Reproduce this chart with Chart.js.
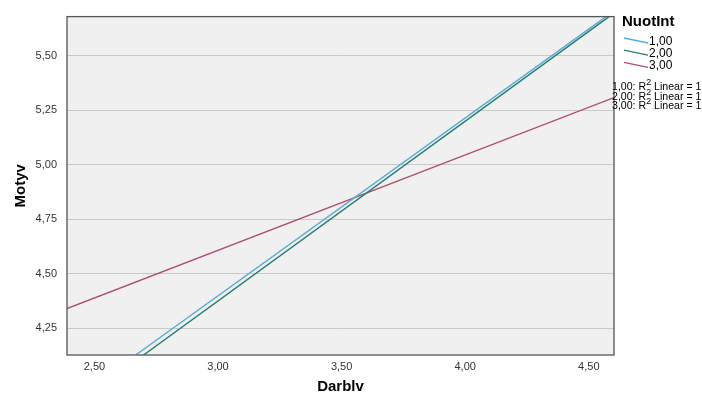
<!DOCTYPE html>
<html>
<head>
<meta charset="utf-8">
<script src="https://cdn.jsdelivr.net/npm/chart.js@4.4.1/dist/chart.umd.min.js"></script>
<style>
  body { margin: 0; background: #fff; font-family: "Liberation Sans", Arial, sans-serif; }
  #wrap { position: relative; width: 702px; height: 398px; }
  #legend { position: absolute; left: 0; top: 0; width: 702px; height: 398px; pointer-events: none; }
  .lg { position: absolute; white-space: nowrap; color: #000; }
  .lgTitle { left: 622px; top: 12px; font-size: 15px; font-weight: bold; }
  .lgItem { left: 649px; font-size: 12px; }
  .lgR2 { left: 612px; font-size: 10.6px; }
</style>
</head>
<body>
<div id="wrap">
  <canvas id="chart" width="702" height="398"></canvas>
  <div id="legend"></div>
</div>
<script>
// groups of NuotInt and their fit lines
var groupLabels = ["1,00", "2,00", "3,00"];
var groupColors = ["#55acdc", "#2b7b6c", "#b24d6a"];
var fitX1 = [2.667, 4.570];
var fitY1 = [4.128, 5.679];
var fitX2 = [2.699, 4.582];
var fitY2 = [4.128, 5.679];
var fitX3 = [2.389, 4.602];
var fitY3 = [4.341, 5.308];
var r2Labels = ["1,00: R<sup>2</sup> Linear = 1", "2,00: R<sup>2</sup> Linear = 1", "3,00: R<sup>2</sup> Linear = 1"];

// axis ticks
var xTicks = [2.50, 3.00, 3.50, 4.00, 4.50];
var yTicks = [4.25, 4.50, 4.75, 5.00, 5.25, 5.50];

function toPoints(xs, ys) {
  var pts = [];
  for (var i = 0; i < xs.length; i++) pts.push({x: xs[i], y: ys[i]});
  return pts;
}
var fitX = [fitX1, fitX2, fitX3];
var fitY = [fitY1, fitY2, fitY3];
var datasets = [];
for (var i = 0; i < groupLabels.length; i++) {
  datasets.push({
    label: groupLabels[i],
    data: toPoints(fitX[i], fitY[i]),
    showLine: true,
    borderColor: groupColors[i],
    borderWidth: 1.4,
    pointRadius: 0,
    fill: false
  });
}

function comma(v) { return v.toFixed(2).replace(".", ","); }

// grey plot background and dark frame like spss
var plotFrame = {
  id: "plotFrame",
  beforeDraw: function(chart) {
    var a = chart.chartArea, c = chart.ctx;
    c.save();
    c.fillStyle = "#f0f0f0";
    c.fillRect(a.left, a.top, a.right - a.left, a.bottom - a.top);
    c.restore();
  },
  afterDraw: function(chart) {
    var a = chart.chartArea, c = chart.ctx;
    c.save();
    c.strokeStyle = "#555";
    c.lineWidth = 1.3;
    c.strokeRect(a.left, a.top, a.right - a.left, a.bottom - a.top);
    c.restore();
  }
};

Chart.defaults.font.family = '"Liberation Sans", Arial, sans-serif';
Chart.defaults.color = "#333";

var ctx = document.getElementById("chart").getContext("2d");
var myChart = new Chart(ctx, {
  type: "scatter",
  data: { datasets: datasets },
  plugins: [plotFrame],
  options: {
    responsive: false,
    animation: false,
    layout: { padding: { left: 0, right: 88, top: 8, bottom: 0 } },
    plugins: { legend: { display: false }, tooltip: { enabled: false } },
    scales: {
      x: {
        type: "linear",
        min: 2.389,
        max: 4.602,
        afterFit: function(s) { s.height = 43; },
        afterBuildTicks: function(s) { s.ticks = xTicks.map(function(v) { return {value: v}; }); },
        grid: { display: false, drawTicks: false },
        border: { display: false },
        ticks: { padding: 5, font: { size: 11 }, callback: function(v) { return comma(v); } },
        title: { display: true, text: "Darblv", color: "#000", font: { size: 15, weight: "bold" }, padding: { top: 0, bottom: 2 } }
      },
      y: {
        type: "linear",
        min: 4.128,
        max: 5.679,
        afterFit: function(s) { s.width = 67; },
        afterBuildTicks: function(s) { s.ticks = yTicks.map(function(v) { return {value: v}; }); },
        grid: { color: "#c9c9c9", lineWidth: 1, drawTicks: false },
        border: { display: false },
        ticks: { padding: 10, font: { size: 11 }, callback: function(v) { return comma(v); } },
        title: { display: true, text: "Motyv", color: "#000", font: { size: 15, weight: "bold" }, padding: { top: 12, bottom: 0 } }
      }
    }
  }
});

// legend on the right
var lg = document.getElementById("legend");
var html = '<div class="lg lgTitle">NuotInt</div>';
html += '<svg width="702" height="398" style="position:absolute;left:0;top:0">';
for (var k = 0; k < groupLabels.length; k++) {
  var yy = 38 + k * 12.2;
  html += '<line x1="624" y1="' + yy + '" x2="648" y2="' + (yy + 5) + '" stroke="' + groupColors[k] + '" stroke-width="1.3"/>';
}
html += '</svg>';
for (var k = 0; k < groupLabels.length; k++) {
  html += '<div class="lg lgItem" style="top:' + (34 + k * 12.2) + 'px">' + groupLabels[k] + '</div>';
}
for (var k = 0; k < r2Labels.length; k++) {
  html += '<div class="lg lgR2" style="top:' + (77 + k * 9.7) + 'px">' + r2Labels[k] + '</div>';
}
lg.innerHTML = html;
</script>
</body>
</html>
